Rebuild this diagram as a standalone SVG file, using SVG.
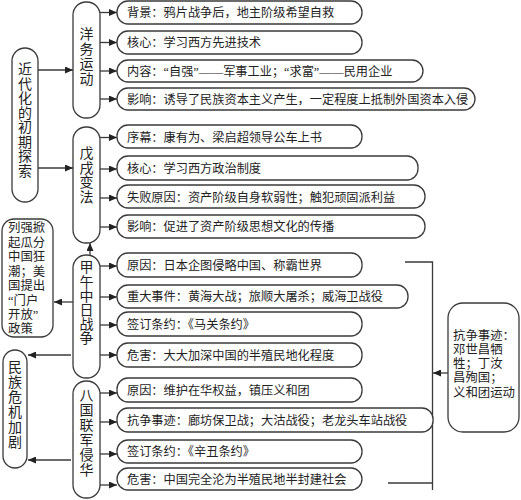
<svg xmlns="http://www.w3.org/2000/svg" width="521" height="500" viewBox="0 0 521 500">
<style>
.box{fill:#fff;stroke:#3a3a3a;stroke-width:1.3}
.t{font-family:"Liberation Serif","Noto Sans CJK SC",serif;font-size:12.2px;fill:#222;dominant-baseline:central}
.v{font-family:"Liberation Serif","Noto Sans CJK SC",serif;font-size:14px;fill:#222;text-anchor:middle;dominant-baseline:central}
.s{font-family:"Liberation Serif","Noto Sans CJK SC",serif;font-size:12.4px;fill:#222;dominant-baseline:central}
.c{fill:none;stroke:#3a3a3a;stroke-width:1.3}
.a{fill:none;stroke:#3a3a3a;stroke-width:1.3;marker-end:url(#ah)}
</style>
<defs>
<marker id="ah" markerUnits="userSpaceOnUse" markerWidth="8" markerHeight="7" refX="8" refY="3.5" orient="auto">
<path d="M0,0 L8,3.5 L0,7 z" fill="#222"/>
</marker>
</defs>
<rect width="521" height="500" fill="#fff"/>

<g id="connectors">
<line class="a" x1="38" y1="70" x2="73" y2="70"/>
<line class="a" x1="38" y1="168" x2="73" y2="168"/>
<line class="a" x1="100" y1="12.5" x2="117" y2="12.5"/>
<line class="a" x1="100" y1="42.5" x2="117" y2="42.5"/>
<line class="a" x1="100" y1="71" x2="117" y2="71"/>
<line class="a" x1="100" y1="99" x2="117" y2="99"/>
<line class="a" x1="100" y1="137.5" x2="117" y2="137.5"/>
<line class="a" x1="100" y1="169" x2="117" y2="169"/>
<line class="a" x1="100" y1="198" x2="117" y2="198"/>
<line class="a" x1="100" y1="227" x2="117" y2="227"/>
<line class="a" x1="90" y1="255" x2="90" y2="243"/>
<line class="a" x1="100" y1="266" x2="117" y2="266"/>
<line class="a" x1="100" y1="297" x2="117" y2="297"/>
<line class="a" x1="100" y1="325" x2="117" y2="325"/>
<line class="a" x1="100" y1="355" x2="117" y2="355"/>
<line class="a" x1="73" y1="302" x2="54" y2="302"/>
<line class="a" x1="71" y1="355" x2="28" y2="355"/>
<line class="a" x1="71" y1="460" x2="28" y2="460"/>
<line class="a" x1="100" y1="393" x2="117" y2="393"/>
<line class="a" x1="100" y1="422" x2="117" y2="422"/>
<line class="a" x1="100" y1="454" x2="117" y2="454"/>
<line class="a" x1="100" y1="485" x2="117" y2="485"/>
<polyline class="c" points="405,262 432.5,262 432.5,490"/>
<line class="c" x1="388" y1="483" x2="432.5" y2="483"/>
<line class="a" x1="448" y1="373" x2="433" y2="373"/>
</g>

<g id="n-modern">
<rect class="box" x="12" y="48" width="26" height="154" rx="13"/>
<text class="v" x="25"><tspan x="25" y="69">近</tspan><tspan x="25" y="83.5">代</tspan><tspan x="25" y="98">化</tspan><tspan x="25" y="112.5">的</tspan><tspan x="25" y="127">初</tspan><tspan x="25" y="141.5">期</tspan><tspan x="25" y="156">探</tspan><tspan x="25" y="170.5">索</tspan></text>
</g>

<g id="n-yangwu">
<rect class="box" x="73" y="2" width="27" height="116" rx="13"/>
<text class="v"><tspan x="86.5" y="34">洋</tspan><tspan x="86.5" y="49">务</tspan><tspan x="86.5" y="64">运</tspan><tspan x="86.5" y="79">动</tspan></text>
</g>

<g id="n-wuxu">
<rect class="box" x="73" y="127" width="27" height="116" rx="13"/>
<text class="v"><tspan x="86.5" y="153">戊</tspan><tspan x="86.5" y="168">戌</tspan><tspan x="86.5" y="182">变</tspan><tspan x="86.5" y="197">法</tspan></text>
</g>

<g id="n-jiawu">
<rect class="box" x="73" y="255" width="27" height="123" rx="13"/>
<text class="v"><tspan x="86.5" y="267">甲</tspan><tspan x="86.5" y="281.5">午</tspan><tspan x="86.5" y="295.5">中</tspan><tspan x="86.5" y="309.5">日</tspan><tspan x="86.5" y="324">战</tspan><tspan x="86.5" y="338">争</tspan></text>
</g>

<g id="n-baguo">
<rect class="box" x="73" y="381" width="27" height="117" rx="13"/>
<text class="v"><tspan x="86.5" y="395">八</tspan><tspan x="86.5" y="410">国</tspan><tspan x="86.5" y="425">联</tspan><tspan x="86.5" y="440">军</tspan><tspan x="86.5" y="455">侵</tspan><tspan x="86.5" y="470">华</tspan></text>
</g>

<g id="n-lieqiang">
<rect class="box" x="2" y="219" width="51" height="118" rx="12"/>
<text class="s"><tspan x="8" y="228">列强掀</tspan><tspan x="8" y="242.5">起瓜分</tspan><tspan x="8" y="257">中国狂</tspan><tspan x="8" y="271.5">潮；美</tspan><tspan x="8" y="286">国提出</tspan><tspan x="8" y="300.5">“门户</tspan><tspan x="8" y="315">开放”</tspan><tspan x="8" y="329">政策</tspan></text>
</g>

<g id="n-minzu">
<rect class="box" x="3" y="350" width="24" height="118" rx="12"/>
<text class="v"><tspan x="15" y="367">民</tspan><tspan x="15" y="382">族</tspan><tspan x="15" y="397">危</tspan><tspan x="15" y="412">机</tspan><tspan x="15" y="427">加</tspan><tspan x="15" y="442">剧</tspan></text>
</g>

<g id="n-kangzheng">
<rect class="box" x="448" y="303" width="71" height="129" rx="15"/>
<text class="s"><tspan x="453" y="336">抗争事迹：</tspan><tspan x="453" y="350">邓世昌牺</tspan><tspan x="453" y="364">牲；丁汝</tspan><tspan x="453" y="378">昌殉国；</tspan><tspan x="453" y="393">义和团运动</tspan></text>
</g>

<g id="b1"><rect class="box" x="117" y="1" width="245" height="23" rx="11"/><text class="t" x="127" y="13">背景：鸦片战争后，地主阶级希望自救</text></g>
<g id="b2"><rect class="box" x="117" y="31" width="245" height="23" rx="11"/><text class="t" x="127" y="43">核心：学习西方先进技术</text></g>
<g id="b3"><rect class="box" x="117" y="60" width="306" height="22" rx="11"/><text class="t" x="127" y="71.5">内容：“自强”——军事工业；“求富”——民用企业</text></g>
<g id="b4"><rect class="box" x="117" y="88" width="358" height="22" rx="11"/><text class="t" x="127" y="99.5">影响：诱导了民族资本主义产生，一定程度上抵制外国资本入侵</text></g>
<g id="b5"><rect class="box" x="117" y="125" width="245" height="23" rx="11"/><text class="t" x="127" y="137.5">序幕：康有为、梁启超领导公车上书</text></g>
<g id="b6"><rect class="box" x="117" y="156" width="301" height="24" rx="11"/><text class="t" x="127" y="169">核心：学习西方政治制度</text></g>
<g id="b7"><rect class="box" x="117" y="185" width="308" height="23" rx="11"/><text class="t" x="127" y="197.5">失败原因：资产阶级自身软弱性；触犯顽固派利益</text></g>
<g id="b8"><rect class="box" x="117" y="215" width="308" height="23" rx="11"/><text class="t" x="127" y="227">影响：促进了资产阶级思想文化的传播</text></g>
<g id="b9"><rect class="box" x="117" y="253" width="245" height="24" rx="11"/><text class="t" x="127" y="265.5">原因：日本企图侵略中国、称霸世界</text></g>
<g id="b10"><rect class="box" x="117" y="285" width="291" height="23" rx="11"/><text class="t" x="127" y="297">重大事件：黄海大战；旅顺大屠杀；威海卫战役</text></g>
<g id="b11"><rect class="box" x="117" y="312" width="245" height="24" rx="11"/><text class="t" x="127" y="324.5">签订条约：《马关条约》</text></g>
<g id="b12"><rect class="box" x="117" y="343" width="245" height="24" rx="11"/><text class="t" x="127" y="355.5">危害：大大加深中国的半殖民地化程度</text></g>
<g id="b13"><rect class="box" x="117" y="378" width="245" height="24" rx="11"/><text class="t" x="127" y="390.5">原因：维护在华权益，镇压义和团</text></g>
<g id="b14"><rect class="box" x="117" y="408" width="316" height="24" rx="11"/><text class="t" x="127" y="420.5">抗争事迹：廊坊保卫战；大沽战役；老龙头车站战役</text></g>
<g id="b15"><rect class="box" x="117" y="440" width="245" height="23" rx="11"/><text class="t" x="127" y="452">签订条约：《辛丑条约》</text></g>
<g id="b16"><rect class="box" x="117" y="468" width="245" height="22" rx="11"/><text class="t" x="127" y="479.5">危害：中国完全沦为半殖民地半封建社会</text></g>
</svg>
